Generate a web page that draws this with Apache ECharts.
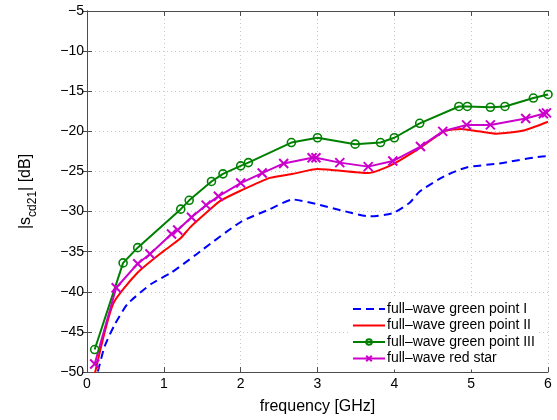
<!DOCTYPE html>
<html>
<head>
<meta charset="utf-8">
<script src="https://cdn.jsdelivr.net/npm/echarts@6/dist/echarts.min.js"></script>
<style>
  html, body { margin: 0; padding: 0; background: #fff; }
  #chart { width: 557px; height: 420px; }
</style>
</head>
<body>
<div id="chart"></div>
<script>
// Frequency sweeps [GHz] and coupling |s_cd21| [dB]
const freqPointI = [0.10, 0.14, 0.23, 0.36, 0.53, 0.84, 1.10, 1.40, 1.51, 2.00, 2.38, 2.68, 3.00, 3.33, 3.68, 3.98, 4.20, 4.33, 4.65, 4.94, 5.37, 5.98, 6.00];
const dbPointI   = [-51.5, -50.0, -46.8, -44.1, -41.5, -39.0, -37.6, -35.5, -34.7, -31.3, -29.7, -28.5, -29.1, -29.9, -30.6, -30.2, -28.9, -27.5, -25.6, -24.5, -24.0, -23.1, -23.1];

const freqPointII = [0.10, 0.34, 0.66, 1.00, 1.21, 1.34, 1.50, 1.73, 2.00, 2.38, 2.68, 3.00, 3.66, 3.96, 4.33, 4.65, 4.87, 5.10, 5.33, 5.68, 6.00];
const dbPointII   = [-50.3, -41.5, -37.6, -34.9, -33.4, -32.0, -30.6, -28.7, -27.4, -25.8, -25.3, -24.7, -25.2, -24.2, -22.1, -20.0, -19.7, -20.0, -20.3, -19.9, -18.8];

const freqPointIII = [0.10, 0.47, 0.66, 1.22, 1.33, 1.62, 1.77, 2.00, 2.10, 2.66, 3.00, 3.49, 3.82, 4.00, 4.33, 4.84, 4.95, 5.25, 5.44, 5.81, 6.00];
const dbPointIII   = [-47.2, -36.4, -34.5, -29.7, -28.6, -26.25, -25.3, -24.3, -23.9, -21.4, -20.8, -21.6, -21.4, -20.8, -19.0, -16.9, -16.9, -17.0, -16.9, -15.85, -15.4];

const freqRedStar = [0.10, 0.38, 0.66, 0.82, 1.10, 1.18, 1.36, 1.55, 1.71, 2.00, 2.28, 2.56, 2.93, 2.98, 3.29, 3.66, 3.98, 4.34, 4.63, 4.94, 5.25, 5.71, 5.94, 5.98];
const dbRedStar   = [-49.0, -39.5, -36.5, -35.3, -32.8, -32.3, -30.7, -29.2, -28.1, -26.45, -25.2, -24.0, -23.3, -23.3, -23.9, -24.4, -23.7, -21.9, -20.0, -19.2, -19.2, -18.4, -17.8, -17.7];

const seriesNames = ['full\u2013wave green point I', 'full\u2013wave green point II', 'full\u2013wave green point III', 'full\u2013wave red star'];

const xTicks = { min: 0, max: 6, step: 1 };
const yTicks = { min: -50, max: -5, step: 5 };

const pairs = (xs, ys) => xs.map((x, i) => [x, ys[i]]);
const fmtNum = v => (v < 0 ? '\u2212' + Math.abs(v) : String(v));

const FONT = 'Liberation Sans, Arial, Helvetica, sans-serif';
const AXIS_COLOR = '#4d4d4d';
const BLUE = '#0000ff', RED = '#ff0000', GREEN = '#008000', MAGENTA = '#cc00cc';
const X_MARK = 'path://M0,0L10,10M10,0L0,10';
const HIDDEN_MARK = { color: 'rgba(0,0,0,0)', borderColor: 'rgba(0,0,0,0)', borderWidth: 0 };

const chart = echarts.init(document.getElementById('chart'), null, { renderer: 'canvas' });

const axisBase = {
  type: 'value',
  axisLine: { show: true, lineStyle: { color: AXIS_COLOR, width: 1 } },
  axisTick: { show: true, inside: true, length: 5, lineStyle: { color: AXIS_COLOR } },
  splitLine: { show: false },
  axisLabel: { show: false }
};

chart.setOption({
  animation: false,
  backgroundColor: '#fff',
  textStyle: { fontFamily: FONT },
  grid: { left: 87, right: 9, top: 11, bottom: 44, containLabel: false },
  xAxis: [
    Object.assign({}, axisBase, {
      position: 'bottom',
      min: xTicks.min, max: xTicks.max, interval: xTicks.step,
      axisLabel: { show: true, color: '#000', fontSize: 14, margin: 5, fontFamily: FONT, formatter: fmtNum },
      splitLine: { show: true, lineStyle: { color: '#c8c8c8', type: [1, 3], width: 1 } },
      name: 'frequency [GHz]',
      nameLocation: 'middle',
      nameGap: 27,
      nameTextStyle: { color: '#000', fontSize: 16, fontFamily: FONT }
    }),
    Object.assign({}, axisBase, {
      position: 'top',
      min: xTicks.min, max: xTicks.max, interval: xTicks.step
    })
  ],
  yAxis: [
    Object.assign({}, axisBase, {
      position: 'left',
      min: yTicks.min, max: yTicks.max, interval: yTicks.step,
      axisLabel: { show: true, color: '#000', fontSize: 14, margin: 3, fontFamily: FONT, formatter: fmtNum },
      splitLine: { show: true, lineStyle: { color: '#c8c8c8', type: [1, 3], width: 1 } },
      name: '|s{sub|cd21}| [dB]',
      nameLocation: 'middle',
      nameRotate: 90,
      nameGap: 48,
      nameTextStyle: {
        color: '#000', fontSize: 16, fontFamily: FONT,
        rich: {
          sub: { fontSize: 12, fontFamily: FONT, color: '#000', padding: [14, 0, 0, 0] }
        }
      }
    }),
    Object.assign({}, axisBase, {
      position: 'right',
      min: yTicks.min, max: yTicks.max, interval: yTicks.step
    })
  ],
  legend: {
    orient: 'vertical',
    left: 349,
    top: 298,
    itemWidth: 32,
    itemHeight: 7,
    itemGap: 2.5,
    padding: [4, 4, 4, 3],
    backgroundColor: '#fff',
    textStyle: { fontSize: 14, color: '#000', fontFamily: FONT, padding: [0, 0, 0, -3] },
    data: [
      { name: seriesNames[0], itemStyle: HIDDEN_MARK },
      { name: seriesNames[1], itemStyle: HIDDEN_MARK },
      { name: seriesNames[2] },
      { name: seriesNames[3] }
    ]
  },
  series: [
    {
      name: seriesNames[0], type: 'line', data: pairs(freqPointI, dbPointI),
      showSymbol: false, symbol: 'none', clip: true, smooth: 0.2,
      lineStyle: { color: BLUE, width: 2, type: [8, 5] },
      itemStyle: { color: BLUE }
    },
    {
      name: seriesNames[1], type: 'line', data: pairs(freqPointII, dbPointII),
      showSymbol: false, symbol: 'none', clip: true, smooth: 0.2,
      lineStyle: { color: RED, width: 2 },
      itemStyle: { color: RED }
    },
    {
      name: seriesNames[2], type: 'line', data: pairs(freqPointIII, dbPointIII),
      symbol: 'circle', symbolSize: 8, clip: true,
      lineStyle: { color: GREEN, width: 2 },
      itemStyle: { color: 'rgba(0,0,0,0)', borderColor: GREEN, borderWidth: 1.6 }
    },
    {
      name: seriesNames[3], type: 'line', data: pairs(freqRedStar, dbRedStar),
      symbol: X_MARK, symbolSize: 9, clip: true,
      lineStyle: { color: MAGENTA, width: 2 },
      itemStyle: { color: 'rgba(0,0,0,0)', borderColor: MAGENTA, borderWidth: 2 }
    }
  ]
});
</script>
</body>
</html>
